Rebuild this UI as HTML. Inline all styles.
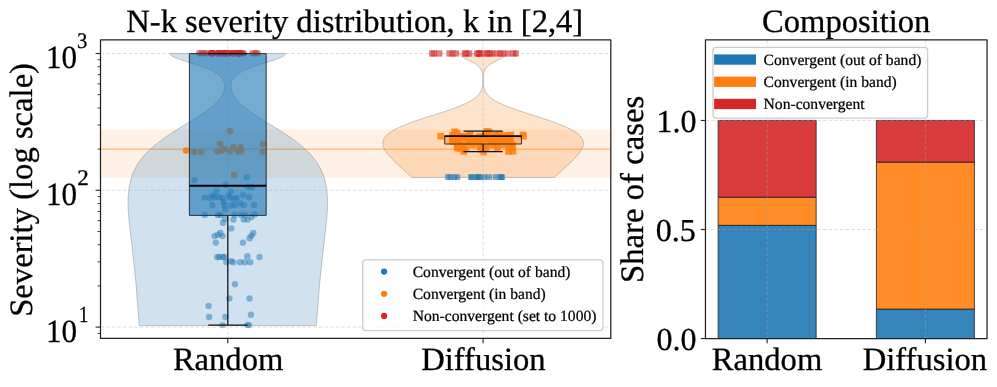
<!DOCTYPE html>
<html><head><meta charset="utf-8"><title>N-k severity distribution</title>
<style>html,body{margin:0;padding:0;background:#fff}svg{display:block}text{stroke:#000;stroke-width:0.3px}text.sm{stroke-width:0.24px}</style></head>
<body>
<svg width="997" height="387" viewBox="0 0 997 387" font-family="'Liberation Serif','Times New Roman',serif" text-rendering="geometricPrecision" stroke-linejoin="round">
<rect width="997" height="387" fill="#fff"/>
<clipPath id="cl"><rect x="100.5" y="39.95" width="510.29999999999995" height="298.5"/></clipPath>
<g clip-path="url(#cl)">
<rect x="100.5" y="129.5" width="510.29999999999995" height="48.40" fill="#ff7f0e" fill-opacity="0.11"/>
<line x1="100.5" x2="610.8" y1="149.12" y2="149.12" stroke="#ff7f0e" stroke-opacity="0.5" stroke-width="1.15"/>
<path d="M139.26,325.60 L136.13,285.17 L133.70,261.34 L131.74,244.37 L130.20,231.19 L129.06,220.41 L128.32,211.29 L128.00,203.38 L128.21,196.40 L128.78,190.16 L129.68,184.51 L130.92,179.36 L132.47,174.61 L134.32,170.22 L136.45,166.12 L138.83,162.30 L141.45,158.70 L144.28,155.31 L147.29,152.10 L150.45,149.06 L153.73,146.16 L157.11,143.40 L160.56,140.76 L164.05,138.24 L167.56,135.82 L171.07,133.49 L174.54,131.25 L177.96,129.09 L181.32,127.01 L184.59,124.99 L187.76,123.05 L190.81,121.16 L193.74,119.34 L196.54,117.56 L199.20,115.84 L201.72,114.17 L204.09,112.54 L206.31,110.96 L208.38,109.42 L210.31,107.92 L212.09,106.45 L213.73,105.02 L215.23,103.62 L216.61,102.26 L217.85,100.92 L218.97,99.62 L219.98,98.34 L220.87,97.09 L221.66,95.87 L222.35,94.67 L222.94,93.49 L223.45,92.34 L223.87,91.21 L224.20,90.10 L224.45,89.01 L224.63,87.94 L224.73,86.88 L224.75,85.85 L224.70,84.84 L224.57,83.84 L224.36,82.86 L224.07,81.89 L223.70,80.94 L223.25,80.01 L222.70,79.09 L222.07,78.18 L221.34,77.29 L220.51,76.41 L219.58,75.54 L218.55,74.68 L217.41,73.84 L216.16,73.01 L214.80,72.19 L213.33,71.38 L211.75,70.59 L210.07,69.80 L208.28,69.02 L206.40,68.26 L204.44,67.50 L202.39,66.75 L200.27,66.02 L198.10,65.29 L195.89,64.57 L193.65,63.86 L191.41,63.15 L189.18,62.46 L186.97,61.77 L184.82,61.09 L182.74,60.42 L180.76,59.76 L178.88,59.10 L177.14,58.45 L175.56,57.81 L174.14,57.18 L172.92,56.55 L171.89,55.92 L171.08,55.31 L170.50,54.70 L170.14,54.10 L170.02,53.50 L285.58,53.50 L285.46,54.10 L285.10,54.70 L284.52,55.31 L283.71,55.92 L282.68,56.55 L281.46,57.18 L280.04,57.81 L278.46,58.45 L276.72,59.10 L274.84,59.76 L272.86,60.42 L270.78,61.09 L268.63,61.77 L266.42,62.46 L264.19,63.15 L261.95,63.86 L259.71,64.57 L257.50,65.29 L255.33,66.02 L253.21,66.75 L251.16,67.50 L249.20,68.26 L247.32,69.02 L245.53,69.80 L243.85,70.59 L242.27,71.38 L240.80,72.19 L239.44,73.01 L238.19,73.84 L237.05,74.68 L236.02,75.54 L235.09,76.41 L234.26,77.29 L233.53,78.18 L232.90,79.09 L232.35,80.01 L231.90,80.94 L231.53,81.89 L231.24,82.86 L231.03,83.84 L230.90,84.84 L230.85,85.85 L230.87,86.88 L230.97,87.94 L231.15,89.01 L231.40,90.10 L231.73,91.21 L232.15,92.34 L232.66,93.49 L233.25,94.67 L233.94,95.87 L234.73,97.09 L235.62,98.34 L236.63,99.62 L237.75,100.92 L238.99,102.26 L240.37,103.62 L241.87,105.02 L243.51,106.45 L245.29,107.92 L247.22,109.42 L249.29,110.96 L251.51,112.54 L253.88,114.17 L256.40,115.84 L259.06,117.56 L261.86,119.34 L264.79,121.16 L267.84,123.05 L271.01,124.99 L274.28,127.01 L277.64,129.09 L281.06,131.25 L284.53,133.49 L288.04,135.82 L291.55,138.24 L295.04,140.76 L298.49,143.40 L301.87,146.16 L305.15,149.06 L308.31,152.10 L311.32,155.31 L314.15,158.70 L316.77,162.30 L319.15,166.12 L321.28,170.22 L323.13,174.61 L324.68,179.36 L325.92,184.51 L326.82,190.16 L327.39,196.40 L327.60,203.38 L327.28,211.29 L326.54,220.41 L325.40,231.19 L323.86,244.37 L321.90,261.34 L319.47,285.17 L316.34,325.60Z" fill="#1f77b4" fill-opacity="0.21" stroke="#808080" stroke-opacity="0.62" stroke-width="0.7"/>
<path d="M411.79,177.42 L407.44,173.34 L403.26,169.51 L399.32,165.92 L395.68,162.53 L392.39,159.32 L389.51,156.28 L387.10,153.39 L385.18,150.63 L383.81,148.00 L383.01,145.47 L382.80,143.05 L383.18,140.72 L384.16,138.48 L385.71,136.33 L387.82,134.24 L390.45,132.23 L393.55,130.29 L397.09,128.40 L400.99,126.58 L405.20,124.81 L409.66,123.09 L414.29,121.41 L419.04,119.79 L423.83,118.21 L428.62,116.66 L433.33,115.16 L437.92,113.70 L442.36,112.27 L446.59,110.87 L450.59,109.50 L454.34,108.17 L457.82,106.87 L461.02,105.59 L463.94,104.34 L466.59,103.12 L468.96,101.92 L471.07,100.74 L472.93,99.59 L474.56,98.46 L475.97,97.35 L477.19,96.26 L478.23,95.19 L479.12,94.14 L479.86,93.10 L480.49,92.09 L481.00,91.09 L481.43,90.11 L481.77,89.14 L482.06,88.19 L482.28,87.26 L482.46,86.34 L482.60,85.43 L482.71,84.54 L482.79,83.66 L482.85,82.79 L482.89,81.94 L482.92,81.10 L482.93,80.27 L482.93,79.45 L482.92,78.64 L482.89,77.84 L482.85,77.06 L482.79,76.28 L482.72,75.51 L482.62,74.76 L482.51,74.01 L482.37,73.27 L482.19,72.54 L481.99,71.82 L481.74,71.11 L481.45,70.41 L481.11,69.72 L480.72,69.03 L480.27,68.35 L479.76,67.68 L479.18,67.02 L478.54,66.36 L477.82,65.71 L477.03,65.07 L476.18,64.43 L475.25,63.80 L474.26,63.18 L473.21,62.57 L472.12,61.96 L470.98,61.36 L469.82,60.76 L468.64,60.17 L467.47,59.58 L466.31,59.00 L465.19,58.43 L464.13,57.86 L463.14,57.30 L462.24,56.74 L461.44,56.19 L460.77,55.64 L460.24,55.10 L459.85,54.56 L459.61,54.03 L459.53,53.50 L506.67,53.50 L506.59,54.03 L506.35,54.56 L505.96,55.10 L505.43,55.64 L504.76,56.19 L503.96,56.74 L503.06,57.30 L502.07,57.86 L501.01,58.43 L499.89,59.00 L498.73,59.58 L497.56,60.17 L496.38,60.76 L495.22,61.36 L494.08,61.96 L492.99,62.57 L491.94,63.18 L490.95,63.80 L490.02,64.43 L489.17,65.07 L488.38,65.71 L487.66,66.36 L487.02,67.02 L486.44,67.68 L485.93,68.35 L485.48,69.03 L485.09,69.72 L484.75,70.41 L484.46,71.11 L484.21,71.82 L484.01,72.54 L483.83,73.27 L483.69,74.01 L483.58,74.76 L483.48,75.51 L483.41,76.28 L483.35,77.06 L483.31,77.84 L483.28,78.64 L483.27,79.45 L483.27,80.27 L483.28,81.10 L483.31,81.94 L483.35,82.79 L483.41,83.66 L483.49,84.54 L483.60,85.43 L483.74,86.34 L483.92,87.26 L484.14,88.19 L484.43,89.14 L484.77,90.11 L485.20,91.09 L485.71,92.09 L486.34,93.10 L487.08,94.14 L487.97,95.19 L489.01,96.26 L490.23,97.35 L491.64,98.46 L493.27,99.59 L495.13,100.74 L497.24,101.92 L499.61,103.12 L502.26,104.34 L505.18,105.59 L508.38,106.87 L511.86,108.17 L515.61,109.50 L519.61,110.87 L523.84,112.27 L528.28,113.70 L532.87,115.16 L537.58,116.66 L542.37,118.21 L547.16,119.79 L551.91,121.41 L556.54,123.09 L561.00,124.81 L565.21,126.58 L569.11,128.40 L572.65,130.29 L575.75,132.23 L578.38,134.24 L580.49,136.33 L582.04,138.48 L583.02,140.72 L583.40,143.05 L583.19,145.47 L582.39,148.00 L581.02,150.63 L579.10,153.39 L576.69,156.28 L573.81,159.32 L570.52,162.53 L566.88,165.92 L562.94,169.51 L558.76,173.34 L554.41,177.42Z" fill="#ff7f0e" fill-opacity="0.21" stroke="#808080" stroke-opacity="0.62" stroke-width="0.7"/>
<circle cx="194.6" cy="180.3" r="3.2" fill="#1f77b4" fill-opacity="0.48"/>
<circle cx="246.8" cy="177.2" r="3.2" fill="#1f77b4" fill-opacity="0.48"/>
<circle cx="225.9" cy="184.7" r="3.2" fill="#1f77b4" fill-opacity="0.48"/>
<circle cx="247.6" cy="186.7" r="3.2" fill="#1f77b4" fill-opacity="0.48"/>
<circle cx="251.7" cy="187.2" r="3.2" fill="#1f77b4" fill-opacity="0.48"/>
<circle cx="204.9" cy="214.9" r="3.2" fill="#1f77b4" fill-opacity="0.48"/>
<circle cx="217.8" cy="214.9" r="3.2" fill="#1f77b4" fill-opacity="0.48"/>
<circle cx="220.4" cy="214.9" r="3.2" fill="#1f77b4" fill-opacity="0.48"/>
<circle cx="225.1" cy="218.8" r="3.2" fill="#1f77b4" fill-opacity="0.48"/>
<circle cx="223.0" cy="222.7" r="3.2" fill="#1f77b4" fill-opacity="0.48"/>
<circle cx="233.4" cy="219.6" r="3.2" fill="#1f77b4" fill-opacity="0.48"/>
<circle cx="234.6" cy="214.9" r="3.2" fill="#1f77b4" fill-opacity="0.48"/>
<circle cx="241.1" cy="214.9" r="3.2" fill="#1f77b4" fill-opacity="0.48"/>
<circle cx="245.0" cy="214.9" r="3.2" fill="#1f77b4" fill-opacity="0.48"/>
<circle cx="243.7" cy="219.6" r="3.2" fill="#1f77b4" fill-opacity="0.48"/>
<circle cx="247.6" cy="219.6" r="3.2" fill="#1f77b4" fill-opacity="0.48"/>
<circle cx="251.5" cy="217.0" r="3.2" fill="#1f77b4" fill-opacity="0.48"/>
<circle cx="254.8" cy="214.4" r="3.2" fill="#1f77b4" fill-opacity="0.48"/>
<circle cx="231.3" cy="228.4" r="3.2" fill="#1f77b4" fill-opacity="0.48"/>
<circle cx="214.5" cy="236.1" r="3.2" fill="#1f77b4" fill-opacity="0.48"/>
<circle cx="217.8" cy="234.8" r="3.2" fill="#1f77b4" fill-opacity="0.48"/>
<circle cx="220.4" cy="233.0" r="3.2" fill="#1f77b4" fill-opacity="0.48"/>
<circle cx="222.5" cy="236.1" r="3.2" fill="#1f77b4" fill-opacity="0.48"/>
<circle cx="253.3" cy="233.0" r="3.2" fill="#1f77b4" fill-opacity="0.48"/>
<circle cx="251.5" cy="235.6" r="3.2" fill="#1f77b4" fill-opacity="0.48"/>
<circle cx="249.6" cy="238.2" r="3.2" fill="#1f77b4" fill-opacity="0.48"/>
<circle cx="215.8" cy="242.6" r="3.2" fill="#1f77b4" fill-opacity="0.48"/>
<circle cx="242.9" cy="242.6" r="3.2" fill="#1f77b4" fill-opacity="0.48"/>
<circle cx="217.2" cy="257.0" r="3.2" fill="#1f77b4" fill-opacity="0.48"/>
<circle cx="219.3" cy="257.0" r="3.2" fill="#1f77b4" fill-opacity="0.48"/>
<circle cx="223.0" cy="257.0" r="3.2" fill="#1f77b4" fill-opacity="0.48"/>
<circle cx="224.0" cy="257.0" r="3.2" fill="#1f77b4" fill-opacity="0.48"/>
<circle cx="247.4" cy="256.3" r="3.2" fill="#1f77b4" fill-opacity="0.48"/>
<circle cx="259.5" cy="257.0" r="3.2" fill="#1f77b4" fill-opacity="0.48"/>
<circle cx="226.3" cy="262.1" r="3.2" fill="#1f77b4" fill-opacity="0.48"/>
<circle cx="230.9" cy="261.2" r="3.2" fill="#1f77b4" fill-opacity="0.48"/>
<circle cx="233.3" cy="262.3" r="3.2" fill="#1f77b4" fill-opacity="0.48"/>
<circle cx="240.0" cy="262.3" r="3.2" fill="#1f77b4" fill-opacity="0.48"/>
<circle cx="244.9" cy="262.3" r="3.2" fill="#1f77b4" fill-opacity="0.48"/>
<circle cx="250.2" cy="262.3" r="3.2" fill="#1f77b4" fill-opacity="0.48"/>
<circle cx="234.9" cy="284.2" r="3.2" fill="#1f77b4" fill-opacity="0.48"/>
<circle cx="229.3" cy="298.4" r="3.2" fill="#1f77b4" fill-opacity="0.48"/>
<circle cx="249.5" cy="298.4" r="3.2" fill="#1f77b4" fill-opacity="0.48"/>
<circle cx="208.6" cy="306.0" r="3.2" fill="#1f77b4" fill-opacity="0.48"/>
<circle cx="209.1" cy="317.0" r="3.2" fill="#1f77b4" fill-opacity="0.48"/>
<circle cx="225.3" cy="317.0" r="3.2" fill="#1f77b4" fill-opacity="0.48"/>
<circle cx="250.9" cy="314.7" r="3.2" fill="#1f77b4" fill-opacity="0.48"/>
<circle cx="222.6" cy="325.1" r="3.2" fill="#1f77b4" fill-opacity="0.48"/>
<circle cx="247.4" cy="325.1" r="3.2" fill="#1f77b4" fill-opacity="0.48"/>
<circle cx="249.1" cy="325.1" r="3.2" fill="#1f77b4" fill-opacity="0.48"/>
<circle cx="216.4" cy="191.1" r="3.2" fill="#1f77b4" fill-opacity="0.48"/>
<circle cx="230.9" cy="191.5" r="3.2" fill="#1f77b4" fill-opacity="0.48"/>
<circle cx="243.1" cy="195.0" r="3.2" fill="#1f77b4" fill-opacity="0.48"/>
<circle cx="204.8" cy="197.6" r="3.2" fill="#1f77b4" fill-opacity="0.48"/>
<circle cx="210.2" cy="198.0" r="3.2" fill="#1f77b4" fill-opacity="0.48"/>
<circle cx="212.8" cy="195.7" r="3.2" fill="#1f77b4" fill-opacity="0.48"/>
<circle cx="215.4" cy="197.2" r="3.2" fill="#1f77b4" fill-opacity="0.48"/>
<circle cx="219.2" cy="197.0" r="3.2" fill="#1f77b4" fill-opacity="0.48"/>
<circle cx="222.5" cy="198.3" r="3.2" fill="#1f77b4" fill-opacity="0.48"/>
<circle cx="228.3" cy="195.7" r="3.2" fill="#1f77b4" fill-opacity="0.48"/>
<circle cx="230.2" cy="197.6" r="3.2" fill="#1f77b4" fill-opacity="0.48"/>
<circle cx="234.1" cy="198.9" r="3.2" fill="#1f77b4" fill-opacity="0.48"/>
<circle cx="236.7" cy="197.6" r="3.2" fill="#1f77b4" fill-opacity="0.48"/>
<circle cx="249.2" cy="197.3" r="3.2" fill="#1f77b4" fill-opacity="0.48"/>
<circle cx="223.8" cy="202.1" r="3.2" fill="#1f77b4" fill-opacity="0.48"/>
<circle cx="212.5" cy="205.1" r="3.2" fill="#1f77b4" fill-opacity="0.48"/>
<circle cx="224.4" cy="205.4" r="3.2" fill="#1f77b4" fill-opacity="0.48"/>
<circle cx="230.9" cy="205.4" r="3.2" fill="#1f77b4" fill-opacity="0.48"/>
<circle cx="234.7" cy="205.0" r="3.2" fill="#1f77b4" fill-opacity="0.48"/>
<circle cx="239.9" cy="203.4" r="3.2" fill="#1f77b4" fill-opacity="0.48"/>
<circle cx="243.8" cy="205.1" r="3.2" fill="#1f77b4" fill-opacity="0.48"/>
<circle cx="254.1" cy="205.0" r="3.2" fill="#1f77b4" fill-opacity="0.48"/>
<circle cx="225.4" cy="209.2" r="3.2" fill="#1f77b4" fill-opacity="0.48"/>
<circle cx="194.0" cy="152.1" r="3.3" fill="#ff7f0e" fill-opacity="0.9"/>
<circle cx="201.3" cy="152.1" r="3.3" fill="#ff7f0e" fill-opacity="0.9"/>
<circle cx="230.0" cy="131.1" r="3.3" fill="#ff7f0e" fill-opacity="0.9"/>
<circle cx="220.2" cy="144.0" r="3.3" fill="#ff7f0e" fill-opacity="0.9"/>
<circle cx="217.3" cy="151.5" r="3.3" fill="#ff7f0e" fill-opacity="0.9"/>
<circle cx="221.7" cy="150.5" r="3.3" fill="#ff7f0e" fill-opacity="0.9"/>
<circle cx="224.8" cy="149.0" r="3.3" fill="#ff7f0e" fill-opacity="0.9"/>
<circle cx="230.0" cy="151.5" r="3.3" fill="#ff7f0e" fill-opacity="0.9"/>
<circle cx="233.4" cy="147.2" r="3.3" fill="#ff7f0e" fill-opacity="0.9"/>
<circle cx="237.8" cy="151.5" r="3.3" fill="#ff7f0e" fill-opacity="0.9"/>
<circle cx="240.6" cy="147.2" r="3.3" fill="#ff7f0e" fill-opacity="0.9"/>
<circle cx="241.1" cy="151.5" r="3.3" fill="#ff7f0e" fill-opacity="0.9"/>
<circle cx="263.1" cy="144.0" r="3.3" fill="#ff7f0e" fill-opacity="0.9"/>
<circle cx="262.6" cy="152.1" r="3.3" fill="#ff7f0e" fill-opacity="0.9"/>
<circle cx="234.1" cy="175.1" r="3.3" fill="#ff7f0e" fill-opacity="0.9"/>
<circle cx="186.0" cy="150.5" r="3.3" fill="#ff7f0e" fill-opacity="0.95"/>
<circle cx="199.3" cy="53.2" r="3.3" fill="#d62728" fill-opacity="0.6"/>
<circle cx="201.8" cy="53.2" r="3.3" fill="#d62728" fill-opacity="0.6"/>
<circle cx="204.3" cy="53.2" r="3.3" fill="#d62728" fill-opacity="0.6"/>
<circle cx="206.6" cy="53.2" r="3.3" fill="#d62728" fill-opacity="0.6"/>
<circle cx="252.4" cy="53.2" r="3.3" fill="#d62728" fill-opacity="0.6"/>
<circle cx="255.2" cy="53.2" r="3.3" fill="#d62728" fill-opacity="0.6"/>
<circle cx="257.6" cy="53.2" r="3.3" fill="#d62728" fill-opacity="0.6"/>
<circle cx="237.1" cy="53.2" r="3.3" fill="#d62728" fill-opacity="0.6"/>
<circle cx="237.2" cy="53.2" r="3.3" fill="#d62728" fill-opacity="0.6"/>
<circle cx="227.5" cy="53.2" r="3.3" fill="#d62728" fill-opacity="0.6"/>
<circle cx="219.9" cy="53.2" r="3.3" fill="#d62728" fill-opacity="0.6"/>
<circle cx="212.3" cy="53.2" r="3.3" fill="#d62728" fill-opacity="0.6"/>
<circle cx="223.2" cy="53.2" r="3.3" fill="#d62728" fill-opacity="0.6"/>
<circle cx="224.0" cy="53.2" r="3.3" fill="#d62728" fill-opacity="0.6"/>
<circle cx="212.0" cy="53.2" r="3.3" fill="#d62728" fill-opacity="0.6"/>
<circle cx="212.1" cy="53.2" r="3.3" fill="#d62728" fill-opacity="0.6"/>
<circle cx="243.5" cy="53.2" r="3.3" fill="#d62728" fill-opacity="0.6"/>
<circle cx="232.0" cy="53.2" r="3.3" fill="#d62728" fill-opacity="0.6"/>
<circle cx="218.2" cy="53.2" r="3.3" fill="#d62728" fill-opacity="0.6"/>
<circle cx="224.9" cy="53.2" r="3.3" fill="#d62728" fill-opacity="0.6"/>
<circle cx="242.6" cy="53.2" r="3.3" fill="#d62728" fill-opacity="0.6"/>
<circle cx="240.1" cy="53.2" r="3.3" fill="#d62728" fill-opacity="0.6"/>
<circle cx="238.4" cy="53.2" r="3.3" fill="#d62728" fill-opacity="0.6"/>
<circle cx="223.4" cy="53.2" r="3.3" fill="#d62728" fill-opacity="0.6"/>
<circle cx="226.8" cy="53.2" r="3.3" fill="#d62728" fill-opacity="0.6"/>
<circle cx="232.8" cy="53.2" r="3.3" fill="#d62728" fill-opacity="0.6"/>
<circle cx="212.5" cy="53.2" r="3.3" fill="#d62728" fill-opacity="0.6"/>
<circle cx="228.8" cy="53.2" r="3.3" fill="#d62728" fill-opacity="0.6"/>
<circle cx="219.5" cy="53.2" r="3.3" fill="#d62728" fill-opacity="0.6"/>
<circle cx="239.5" cy="53.2" r="3.3" fill="#d62728" fill-opacity="0.6"/>
<circle cx="212.6" cy="53.2" r="3.3" fill="#d62728" fill-opacity="0.6"/>
<circle cx="232.9" cy="53.2" r="3.3" fill="#d62728" fill-opacity="0.6"/>
<circle cx="239.2" cy="53.2" r="3.3" fill="#d62728" fill-opacity="0.6"/>
<circle cx="218.0" cy="53.2" r="3.3" fill="#d62728" fill-opacity="0.6"/>
<circle cx="240.0" cy="53.2" r="3.3" fill="#d62728" fill-opacity="0.6"/>
<circle cx="239.3" cy="53.2" r="3.3" fill="#d62728" fill-opacity="0.6"/>
<circle cx="211.1" cy="53.2" r="3.3" fill="#d62728" fill-opacity="0.6"/>
<circle cx="233.8" cy="53.2" r="3.3" fill="#d62728" fill-opacity="0.6"/>
<circle cx="210.5" cy="53.2" r="3.3" fill="#d62728" fill-opacity="0.6"/>
<circle cx="227.1" cy="53.2" r="3.3" fill="#d62728" fill-opacity="0.6"/>
<circle cx="224.9" cy="53.2" r="3.3" fill="#d62728" fill-opacity="0.6"/>
<circle cx="217.2" cy="53.2" r="3.3" fill="#d62728" fill-opacity="0.6"/>
<circle cx="221.2" cy="53.2" r="3.3" fill="#d62728" fill-opacity="0.6"/>
<circle cx="237.1" cy="53.2" r="3.3" fill="#d62728" fill-opacity="0.6"/>
<rect x="445.2" y="174.3" width="5.7" height="5.7" fill="#1f77b4" fill-opacity="0.62"/>
<rect x="447.6" y="174.3" width="5.7" height="5.7" fill="#1f77b4" fill-opacity="0.62"/>
<rect x="451.6" y="174.3" width="5.7" height="5.7" fill="#1f77b4" fill-opacity="0.62"/>
<rect x="454.5" y="174.3" width="5.7" height="5.7" fill="#1f77b4" fill-opacity="0.62"/>
<rect x="468.6" y="174.3" width="5.7" height="5.7" fill="#1f77b4" fill-opacity="0.62"/>
<rect x="475.0" y="174.3" width="5.7" height="5.7" fill="#1f77b4" fill-opacity="0.62"/>
<rect x="492.7" y="174.3" width="5.7" height="5.7" fill="#1f77b4" fill-opacity="0.62"/>
<rect x="475.3" y="174.3" width="5.7" height="5.7" fill="#1f77b4" fill-opacity="0.62"/>
<rect x="481.3" y="174.3" width="5.7" height="5.7" fill="#1f77b4" fill-opacity="0.62"/>
<rect x="468.3" y="174.3" width="5.7" height="5.7" fill="#1f77b4" fill-opacity="0.62"/>
<rect x="497.6" y="174.3" width="5.7" height="5.7" fill="#1f77b4" fill-opacity="0.62"/>
<rect x="473.6" y="174.3" width="5.7" height="5.7" fill="#1f77b4" fill-opacity="0.62"/>
<rect x="477.6" y="174.3" width="5.7" height="5.7" fill="#1f77b4" fill-opacity="0.62"/>
<rect x="499.4" y="174.3" width="5.7" height="5.7" fill="#1f77b4" fill-opacity="0.62"/>
<rect x="486.2" y="174.3" width="5.7" height="5.7" fill="#1f77b4" fill-opacity="0.62"/>
<rect x="498.2" y="174.3" width="5.7" height="5.7" fill="#1f77b4" fill-opacity="0.62"/>
<rect x="454.0" y="136.6" width="6.6" height="6.6" fill="#ff7f0e" fill-opacity="0.85"/>
<rect x="462.8" y="133.7" width="6.6" height="6.6" fill="#ff7f0e" fill-opacity="0.85"/>
<rect x="495.8" y="137.8" width="6.6" height="6.6" fill="#ff7f0e" fill-opacity="0.85"/>
<rect x="483.0" y="133.6" width="6.6" height="6.6" fill="#ff7f0e" fill-opacity="0.85"/>
<rect x="454.5" y="135.6" width="6.6" height="6.6" fill="#ff7f0e" fill-opacity="0.85"/>
<rect x="474.3" y="134.4" width="6.6" height="6.6" fill="#ff7f0e" fill-opacity="0.85"/>
<rect x="477.0" y="136.0" width="6.6" height="6.6" fill="#ff7f0e" fill-opacity="0.85"/>
<rect x="458.3" y="133.0" width="6.6" height="6.6" fill="#ff7f0e" fill-opacity="0.85"/>
<rect x="491.9" y="132.9" width="6.6" height="6.6" fill="#ff7f0e" fill-opacity="0.85"/>
<rect x="455.6" y="136.9" width="6.6" height="6.6" fill="#ff7f0e" fill-opacity="0.85"/>
<rect x="471.8" y="136.9" width="6.6" height="6.6" fill="#ff7f0e" fill-opacity="0.85"/>
<rect x="479.2" y="135.6" width="6.6" height="6.6" fill="#ff7f0e" fill-opacity="0.85"/>
<rect x="474.1" y="138.1" width="6.6" height="6.6" fill="#ff7f0e" fill-opacity="0.85"/>
<rect x="483.3" y="133.1" width="6.6" height="6.6" fill="#ff7f0e" fill-opacity="0.85"/>
<rect x="492.1" y="137.6" width="6.6" height="6.6" fill="#ff7f0e" fill-opacity="0.85"/>
<rect x="504.8" y="132.8" width="6.6" height="6.6" fill="#ff7f0e" fill-opacity="0.85"/>
<rect x="465.6" y="138.4" width="6.6" height="6.6" fill="#ff7f0e" fill-opacity="0.85"/>
<rect x="486.9" y="136.0" width="6.6" height="6.6" fill="#ff7f0e" fill-opacity="0.85"/>
<rect x="489.7" y="135.9" width="6.6" height="6.6" fill="#ff7f0e" fill-opacity="0.85"/>
<rect x="466.1" y="138.5" width="6.6" height="6.6" fill="#ff7f0e" fill-opacity="0.85"/>
<rect x="449.1" y="137.2" width="6.6" height="6.6" fill="#ff7f0e" fill-opacity="0.85"/>
<rect x="505.9" y="137.2" width="6.6" height="6.6" fill="#ff7f0e" fill-opacity="0.85"/>
<rect x="466.4" y="132.0" width="6.6" height="6.6" fill="#ff7f0e" fill-opacity="0.85"/>
<rect x="467.3" y="134.2" width="6.6" height="6.6" fill="#ff7f0e" fill-opacity="0.85"/>
<rect x="501.1" y="132.2" width="6.6" height="6.6" fill="#ff7f0e" fill-opacity="0.85"/>
<rect x="483.2" y="133.0" width="6.6" height="6.6" fill="#ff7f0e" fill-opacity="0.85"/>
<rect x="476.5" y="133.1" width="6.6" height="6.6" fill="#ff7f0e" fill-opacity="0.85"/>
<rect x="494.2" y="137.7" width="6.6" height="6.6" fill="#ff7f0e" fill-opacity="0.85"/>
<rect x="450.8" y="132.5" width="6.6" height="6.6" fill="#ff7f0e" fill-opacity="0.85"/>
<rect x="490.3" y="133.7" width="6.6" height="6.6" fill="#ff7f0e" fill-opacity="0.85"/>
<rect x="470.9" y="135.1" width="6.6" height="6.6" fill="#ff7f0e" fill-opacity="0.85"/>
<rect x="454.3" y="137.6" width="6.6" height="6.6" fill="#ff7f0e" fill-opacity="0.85"/>
<rect x="487.6" y="138.5" width="6.6" height="6.6" fill="#ff7f0e" fill-opacity="0.85"/>
<rect x="503.4" y="136.6" width="6.6" height="6.6" fill="#ff7f0e" fill-opacity="0.85"/>
<rect x="461.1" y="133.1" width="6.6" height="6.6" fill="#ff7f0e" fill-opacity="0.85"/>
<rect x="485.8" y="135.5" width="6.6" height="6.6" fill="#ff7f0e" fill-opacity="0.85"/>
<rect x="466.4" y="136.6" width="6.6" height="6.6" fill="#ff7f0e" fill-opacity="0.85"/>
<rect x="492.3" y="132.0" width="6.6" height="6.6" fill="#ff7f0e" fill-opacity="0.85"/>
<rect x="491.2" y="136.4" width="6.6" height="6.6" fill="#ff7f0e" fill-opacity="0.85"/>
<rect x="461.8" y="134.2" width="6.6" height="6.6" fill="#ff7f0e" fill-opacity="0.85"/>
<rect x="497.5" y="135.8" width="6.6" height="6.6" fill="#ff7f0e" fill-opacity="0.85"/>
<rect x="487.4" y="136.4" width="6.6" height="6.6" fill="#ff7f0e" fill-opacity="0.85"/>
<rect x="488.9" y="136.4" width="6.6" height="6.6" fill="#ff7f0e" fill-opacity="0.85"/>
<rect x="496.9" y="135.3" width="6.6" height="6.6" fill="#ff7f0e" fill-opacity="0.85"/>
<rect x="474.0" y="135.5" width="6.6" height="6.6" fill="#ff7f0e" fill-opacity="0.85"/>
<rect x="493.3" y="133.0" width="6.6" height="6.6" fill="#ff7f0e" fill-opacity="0.85"/>
<rect x="500.3" y="135.1" width="6.6" height="6.6" fill="#ff7f0e" fill-opacity="0.85"/>
<rect x="455.0" y="132.5" width="6.6" height="6.6" fill="#ff7f0e" fill-opacity="0.85"/>
<rect x="498.6" y="135.0" width="6.6" height="6.6" fill="#ff7f0e" fill-opacity="0.85"/>
<rect x="472.0" y="135.4" width="6.6" height="6.6" fill="#ff7f0e" fill-opacity="0.85"/>
<rect x="477.0" y="137.1" width="6.6" height="6.6" fill="#ff7f0e" fill-opacity="0.85"/>
<rect x="457.5" y="134.4" width="6.6" height="6.6" fill="#ff7f0e" fill-opacity="0.85"/>
<rect x="437.5" y="132.9" width="6.6" height="6.6" fill="#ff7f0e" fill-opacity="0.85"/>
<rect x="519.7" y="131.6" width="6.6" height="6.6" fill="#ff7f0e" fill-opacity="0.85"/>
<rect x="520.1" y="133.0" width="6.6" height="6.6" fill="#ff7f0e" fill-opacity="0.85"/>
<rect x="451.2" y="128.4" width="6.6" height="6.6" fill="#ff7f0e" fill-opacity="0.85"/>
<rect x="453.7" y="129.7" width="6.6" height="6.6" fill="#ff7f0e" fill-opacity="0.85"/>
<rect x="483.2" y="128.1" width="6.6" height="6.6" fill="#ff7f0e" fill-opacity="0.85"/>
<rect x="485.7" y="128.6" width="6.6" height="6.6" fill="#ff7f0e" fill-opacity="0.85"/>
<rect x="449.1" y="132.2" width="6.6" height="6.6" fill="#ff7f0e" fill-opacity="0.85"/>
<rect x="507.4" y="131.7" width="6.6" height="6.6" fill="#ff7f0e" fill-opacity="0.85"/>
<rect x="449.1" y="138.2" width="6.6" height="6.6" fill="#ff7f0e" fill-opacity="0.85"/>
<rect x="507.4" y="138.5" width="6.6" height="6.6" fill="#ff7f0e" fill-opacity="0.85"/>
<rect x="466.7" y="131.6" width="6.6" height="6.6" fill="#ff7f0e" fill-opacity="0.85"/>
<rect x="496.7" y="131.6" width="6.6" height="6.6" fill="#ff7f0e" fill-opacity="0.85"/>
<rect x="476.7" y="138.7" width="6.6" height="6.6" fill="#ff7f0e" fill-opacity="0.85"/>
<rect x="491.7" y="138.7" width="6.6" height="6.6" fill="#ff7f0e" fill-opacity="0.85"/>
<rect x="453.7" y="143.2" width="6.6" height="6.6" fill="#ff7f0e" fill-opacity="0.85"/>
<rect x="456.7" y="145.0" width="6.6" height="6.6" fill="#ff7f0e" fill-opacity="0.85"/>
<rect x="460.4" y="148.2" width="6.6" height="6.6" fill="#ff7f0e" fill-opacity="0.85"/>
<rect x="462.7" y="145.2" width="6.6" height="6.6" fill="#ff7f0e" fill-opacity="0.85"/>
<rect x="459.7" y="144.2" width="6.6" height="6.6" fill="#ff7f0e" fill-opacity="0.85"/>
<rect x="454.2" y="144.9" width="6.6" height="6.6" fill="#ff7f0e" fill-opacity="0.85"/>
<rect x="459.2" y="141.7" width="6.6" height="6.6" fill="#ff7f0e" fill-opacity="0.85"/>
<rect x="477.7" y="146.0" width="6.6" height="6.6" fill="#ff7f0e" fill-opacity="0.85"/>
<rect x="480.4" y="148.7" width="6.6" height="6.6" fill="#ff7f0e" fill-opacity="0.85"/>
<rect x="482.7" y="145.2" width="6.6" height="6.6" fill="#ff7f0e" fill-opacity="0.85"/>
<rect x="476.2" y="143.2" width="6.6" height="6.6" fill="#ff7f0e" fill-opacity="0.85"/>
<rect x="480.7" y="142.2" width="6.6" height="6.6" fill="#ff7f0e" fill-opacity="0.85"/>
<rect x="494.1" y="145.0" width="6.6" height="6.6" fill="#ff7f0e" fill-opacity="0.85"/>
<rect x="493.7" y="142.2" width="6.6" height="6.6" fill="#ff7f0e" fill-opacity="0.85"/>
<rect x="505.3" y="148.2" width="6.6" height="6.6" fill="#ff7f0e" fill-opacity="0.85"/>
<rect x="507.7" y="144.7" width="6.6" height="6.6" fill="#ff7f0e" fill-opacity="0.85"/>
<rect x="509.7" y="148.0" width="6.6" height="6.6" fill="#ff7f0e" fill-opacity="0.85"/>
<rect x="505.7" y="143.2" width="6.6" height="6.6" fill="#ff7f0e" fill-opacity="0.85"/>
<rect x="509.5" y="142.2" width="6.6" height="6.6" fill="#ff7f0e" fill-opacity="0.85"/>
<rect x="469.2" y="141.7" width="6.6" height="6.6" fill="#ff7f0e" fill-opacity="0.85"/>
<rect x="487.7" y="141.7" width="6.6" height="6.6" fill="#ff7f0e" fill-opacity="0.85"/>
<rect x="500.2" y="141.7" width="6.6" height="6.6" fill="#ff7f0e" fill-opacity="0.85"/>
<rect x="429.1" y="50.4" width="6.2" height="6.2" fill="#d62728" fill-opacity="0.62"/>
<rect x="431.1" y="50.4" width="6.2" height="6.2" fill="#d62728" fill-opacity="0.62"/>
<rect x="436.2" y="50.4" width="6.2" height="6.2" fill="#d62728" fill-opacity="0.62"/>
<rect x="446.4" y="50.4" width="6.2" height="6.2" fill="#d62728" fill-opacity="0.62"/>
<rect x="449.4" y="50.4" width="6.2" height="6.2" fill="#d62728" fill-opacity="0.62"/>
<rect x="452.9" y="50.4" width="6.2" height="6.2" fill="#d62728" fill-opacity="0.62"/>
<rect x="510.4" y="50.4" width="6.2" height="6.2" fill="#d62728" fill-opacity="0.62"/>
<rect x="512.7" y="50.4" width="6.2" height="6.2" fill="#d62728" fill-opacity="0.62"/>
<rect x="489.0" y="50.4" width="6.2" height="6.2" fill="#d62728" fill-opacity="0.62"/>
<rect x="493.8" y="50.4" width="6.2" height="6.2" fill="#d62728" fill-opacity="0.62"/>
<rect x="463.2" y="50.4" width="6.2" height="6.2" fill="#d62728" fill-opacity="0.62"/>
<rect x="484.3" y="50.4" width="6.2" height="6.2" fill="#d62728" fill-opacity="0.62"/>
<rect x="482.8" y="50.4" width="6.2" height="6.2" fill="#d62728" fill-opacity="0.62"/>
<rect x="499.9" y="50.4" width="6.2" height="6.2" fill="#d62728" fill-opacity="0.62"/>
<rect x="475.9" y="50.4" width="6.2" height="6.2" fill="#d62728" fill-opacity="0.62"/>
<rect x="487.0" y="50.4" width="6.2" height="6.2" fill="#d62728" fill-opacity="0.62"/>
<rect x="461.7" y="50.4" width="6.2" height="6.2" fill="#d62728" fill-opacity="0.62"/>
<rect x="477.1" y="50.4" width="6.2" height="6.2" fill="#d62728" fill-opacity="0.62"/>
<rect x="474.1" y="50.4" width="6.2" height="6.2" fill="#d62728" fill-opacity="0.62"/>
<rect x="466.0" y="50.4" width="6.2" height="6.2" fill="#d62728" fill-opacity="0.62"/>
<rect x="497.3" y="50.4" width="6.2" height="6.2" fill="#d62728" fill-opacity="0.62"/>
<rect x="476.7" y="50.4" width="6.2" height="6.2" fill="#d62728" fill-opacity="0.62"/>
<rect x="504.9" y="50.4" width="6.2" height="6.2" fill="#d62728" fill-opacity="0.62"/>
<line x1="100.5" x2="610.8" y1="327.10" y2="327.10" stroke="#b0b0b0" stroke-opacity="0.45" stroke-width="0.9" stroke-dasharray="3.6 2"/>
<line x1="100.5" x2="610.8" y1="190.30" y2="190.30" stroke="#b0b0b0" stroke-opacity="0.45" stroke-width="0.9" stroke-dasharray="3.6 2"/>
<line x1="100.5" x2="610.8" y1="53.50" y2="53.50" stroke="#b0b0b0" stroke-opacity="0.45" stroke-width="0.9" stroke-dasharray="3.6 2"/>
<line x1="227.8" x2="227.8" y1="39.95" y2="338.45" stroke="#b0b0b0" stroke-opacity="0.45" stroke-width="0.9" stroke-dasharray="3.6 2"/>
<line x1="483.1" x2="483.1" y1="39.95" y2="338.45" stroke="#b0b0b0" stroke-opacity="0.45" stroke-width="0.9" stroke-dasharray="3.6 2"/>
<rect x="189.40" y="53.60" width="76.8" height="161.80" fill="#1f77b4" fill-opacity="0.62" stroke="#222" stroke-width="0.9"/>
<line x1="189.40" x2="266.20" y1="185.80" y2="185.80" stroke="#000" stroke-width="1.9"/>
<line x1="227.8" x2="227.8" y1="215.40" y2="325.10" stroke="#111" stroke-width="1.25"/>
<line x1="208.20000000000002" x2="247.4" y1="325.10" y2="325.10" stroke="#111" stroke-width="1.25"/>
<line x1="208.20000000000002" x2="247.4" y1="53.6" y2="53.6" stroke="#111" stroke-width="1.25"/>
<rect x="444.70" y="135.80" width="76.8" height="8.20" fill="#ff7f0e" fill-opacity="0.45" stroke="#222" stroke-width="0.9"/>
<line x1="444.70" x2="521.50" y1="136.30" y2="136.30" stroke="#000" stroke-width="1.5"/>
<line x1="483.1" x2="483.1" y1="144.00" y2="151.60" stroke="#111" stroke-width="1.25"/>
<line x1="463.5" x2="502.70000000000005" y1="151.60" y2="151.60" stroke="#111" stroke-width="1.25"/>
<line x1="483.1" x2="483.1" y1="135.80" y2="131.10" stroke="#111" stroke-width="1.25"/>
<line x1="463.5" x2="502.70000000000005" y1="131.10" y2="131.10" stroke="#111" stroke-width="1.25"/>
</g>
<rect x="100.5" y="39.95" width="510.29999999999995" height="298.5" fill="none" stroke="#222" stroke-width="1.25"/>
<line x1="95.6" x2="100.5" y1="327.10" y2="327.10" stroke="#222" stroke-width="1.1"/>
<line x1="95.6" x2="100.5" y1="190.30" y2="190.30" stroke="#222" stroke-width="1.1"/>
<line x1="95.6" x2="100.5" y1="53.50" y2="53.50" stroke="#222" stroke-width="1.1"/>
<line x1="97.6" x2="100.5" y1="333.36" y2="333.36" stroke="#222" stroke-width="0.9"/>
<line x1="97.6" x2="100.5" y1="285.92" y2="285.92" stroke="#222" stroke-width="0.9"/>
<line x1="97.6" x2="100.5" y1="261.83" y2="261.83" stroke="#222" stroke-width="0.9"/>
<line x1="97.6" x2="100.5" y1="244.74" y2="244.74" stroke="#222" stroke-width="0.9"/>
<line x1="97.6" x2="100.5" y1="231.48" y2="231.48" stroke="#222" stroke-width="0.9"/>
<line x1="97.6" x2="100.5" y1="220.65" y2="220.65" stroke="#222" stroke-width="0.9"/>
<line x1="97.6" x2="100.5" y1="211.49" y2="211.49" stroke="#222" stroke-width="0.9"/>
<line x1="97.6" x2="100.5" y1="203.56" y2="203.56" stroke="#222" stroke-width="0.9"/>
<line x1="97.6" x2="100.5" y1="196.56" y2="196.56" stroke="#222" stroke-width="0.9"/>
<line x1="97.6" x2="100.5" y1="149.12" y2="149.12" stroke="#222" stroke-width="0.9"/>
<line x1="97.6" x2="100.5" y1="125.03" y2="125.03" stroke="#222" stroke-width="0.9"/>
<line x1="97.6" x2="100.5" y1="107.94" y2="107.94" stroke="#222" stroke-width="0.9"/>
<line x1="97.6" x2="100.5" y1="94.68" y2="94.68" stroke="#222" stroke-width="0.9"/>
<line x1="97.6" x2="100.5" y1="83.85" y2="83.85" stroke="#222" stroke-width="0.9"/>
<line x1="97.6" x2="100.5" y1="74.69" y2="74.69" stroke="#222" stroke-width="0.9"/>
<line x1="97.6" x2="100.5" y1="66.76" y2="66.76" stroke="#222" stroke-width="0.9"/>
<line x1="97.6" x2="100.5" y1="59.76" y2="59.76" stroke="#222" stroke-width="0.9"/>
<line x1="227.8" x2="227.8" y1="338.45" y2="343.34999999999997" stroke="#222" stroke-width="1.1"/>
<line x1="483.1" x2="483.1" y1="338.45" y2="343.34999999999997" stroke="#222" stroke-width="1.1"/>
<text transform="translate(45.9,341.8) scale(0.955,1)" font-size="32.5">10</text>
<text transform="translate(78.9,322.10) scale(0.8,1)" font-size="23.3">1</text>
<text transform="translate(45.9,204.7) scale(0.955,1)" font-size="32.5">10</text>
<text transform="translate(77.2,185.00) scale(1.03,1)" font-size="22.4">2</text>
<text transform="translate(45.9,67.6) scale(0.955,1)" font-size="32.5">10</text>
<text transform="translate(76.9,47.90) scale(0.92,1)" font-size="22.4">3</text>
<text x="228.10000000000002" y="370.2" font-size="32.6" text-anchor="middle">Random</text>
<text x="483.40000000000003" y="370.2" font-size="32.6" text-anchor="middle">Diffusion</text>
<text x="354.75" y="32.1" font-size="32.6" text-anchor="middle">N-k severity distribution, k in [2,4]</text>
<text transform="translate(31.6,189.90) rotate(-90)" font-size="32.65" text-anchor="middle">Severity (log scale)</text>
<rect x="362.7" y="259.8" width="240.3" height="70.9" rx="3.1" fill="#fff" fill-opacity="0.8" stroke="#ccc" stroke-width="1.3"/>
<circle cx="384.1" cy="271.60" r="3.1" fill="#1f77b4"/>
<text x="412.7" y="276.70" font-size="15.6" class="sm">Convergent (out of band)</text>
<circle cx="384.1" cy="293.75" r="3.1" fill="#ff7f0e"/>
<text x="412.7" y="298.85" font-size="15.6" class="sm">Convergent (in band)</text>
<circle cx="384.1" cy="315.90" r="3.1" fill="#d62728"/>
<text x="412.7" y="321.00" font-size="15.6" class="sm">Non-convergent (set to 1000)</text>
<clipPath id="cr"><rect x="705.45" y="39.95" width="281.5999999999999" height="298.65000000000003"/></clipPath>
<g clip-path="url(#cr)">
<rect x="718.15" y="225.36" width="98.0" height="113.19" fill="#1f77b4" fill-opacity="0.9" stroke="#222" stroke-opacity="0.85" stroke-width="0.95"/>
<rect x="718.15" y="197.22" width="98.0" height="28.13" fill="#ff7f0e" fill-opacity="0.9" stroke="#222" stroke-opacity="0.85" stroke-width="0.95"/>
<rect x="718.15" y="120.45" width="98.0" height="76.77" fill="#d62728" fill-opacity="0.9" stroke="#222" stroke-opacity="0.85" stroke-width="0.95"/>
<rect x="876.40" y="309.11" width="98.0" height="29.44" fill="#1f77b4" fill-opacity="0.9" stroke="#222" stroke-opacity="0.85" stroke-width="0.95"/>
<rect x="876.40" y="162.11" width="98.0" height="147.00" fill="#ff7f0e" fill-opacity="0.9" stroke="#222" stroke-opacity="0.85" stroke-width="0.95"/>
<rect x="876.40" y="120.45" width="98.0" height="41.66" fill="#d62728" fill-opacity="0.9" stroke="#222" stroke-opacity="0.85" stroke-width="0.95"/>
<line x1="705.45" x2="987.05" y1="229.50" y2="229.50" stroke="#b0b0b0" stroke-opacity="0.45" stroke-width="0.9" stroke-dasharray="3.6 2"/>
<line x1="705.45" x2="987.05" y1="120.45" y2="120.45" stroke="#b0b0b0" stroke-opacity="0.45" stroke-width="0.9" stroke-dasharray="3.6 2"/>
<line x1="767.15" x2="767.15" y1="39.95" y2="338.45" stroke="#b0b0b0" stroke-opacity="0.45" stroke-width="0.9" stroke-dasharray="3.6 2"/>
<line x1="925.4" x2="925.4" y1="39.95" y2="338.45" stroke="#b0b0b0" stroke-opacity="0.45" stroke-width="0.9" stroke-dasharray="3.6 2"/>
</g>
<rect x="705.45" y="39.95" width="281.60" height="298.65" fill="none" stroke="#222" stroke-width="1.25"/>
<line x1="700.8000000000001" x2="705.45" y1="338.55" y2="338.55" stroke="#222" stroke-width="1.1"/>
<text x="696.5" y="350.05" font-size="32" text-anchor="end">0.0</text>
<line x1="700.8000000000001" x2="705.45" y1="229.50" y2="229.50" stroke="#222" stroke-width="1.1"/>
<text x="695.8" y="241.00" font-size="32" text-anchor="end">0.5</text>
<line x1="700.8000000000001" x2="705.45" y1="120.45" y2="120.45" stroke="#222" stroke-width="1.1"/>
<text x="696.5" y="131.95" font-size="32" text-anchor="end">1.0</text>
<line x1="767.15" x2="767.15" y1="338.45" y2="343.34999999999997" stroke="#222" stroke-width="1.1"/>
<line x1="925.4" x2="925.4" y1="338.45" y2="343.34999999999997" stroke="#222" stroke-width="1.1"/>
<text x="767.05" y="370.2" font-size="32.6" text-anchor="middle">Random</text>
<text x="924.9" y="370.2" font-size="32.6" text-anchor="middle">Diffusion</text>
<text x="846.25" y="32.1" font-size="32.6" text-anchor="middle">Composition</text>
<text transform="translate(643.3,189.40) rotate(-90)" font-size="32.75" text-anchor="middle">Share of cases</text>
<rect x="713.0" y="47.3" width="214.6" height="70.9" rx="3.1" fill="#fff" fill-opacity="0.8" stroke="#ccc" stroke-width="1.3"/>
<rect x="714.1" y="54.40" width="41.9" height="10.3" fill="#1f77b4"/>
<text x="763.6" y="64.60" font-size="15.6" class="sm">Convergent (out of band)</text>
<rect x="714.1" y="76.60" width="41.9" height="10.3" fill="#ff7f0e"/>
<text x="763.6" y="86.80" font-size="15.6" class="sm">Convergent (in band)</text>
<rect x="714.1" y="98.80" width="41.9" height="10.3" fill="#d62728"/>
<text x="763.6" y="109.00" font-size="15.6" class="sm">Non-convergent</text>
</svg>
</body></html>
